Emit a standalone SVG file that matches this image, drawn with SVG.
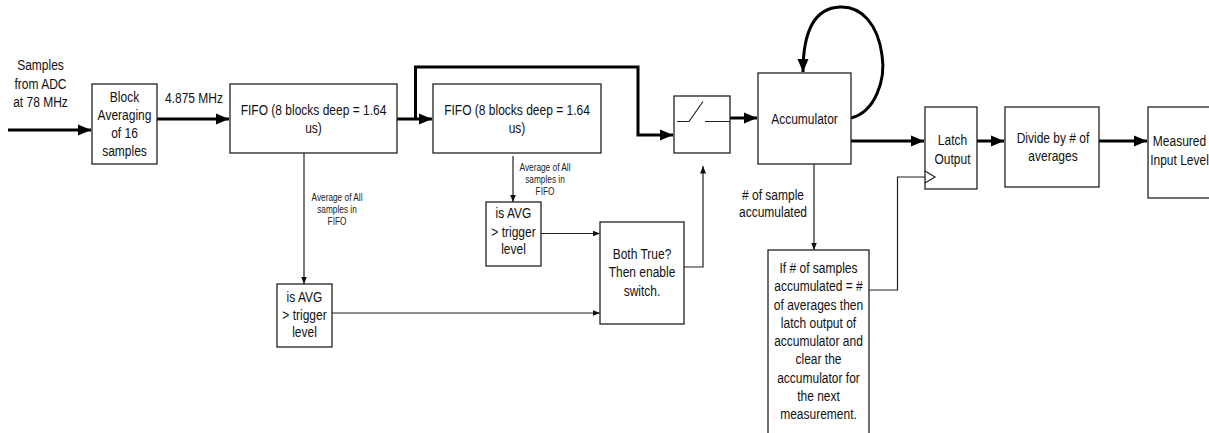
<svg xmlns="http://www.w3.org/2000/svg" width="1209" height="433" viewBox="0 0 1209 433">
<style>
.box{fill:#fff;stroke:#222;stroke-width:1.3}
.t{font-family:"Liberation Sans",Arial,sans-serif;font-size:15px;fill:#111;text-anchor:middle}
.s{font-family:"Liberation Sans",Arial,sans-serif;font-size:10px;fill:#222;text-anchor:middle}
.thick{fill:none;stroke:#000;stroke-width:3}
.thin{fill:none;stroke:#222;stroke-width:1.2}
</style>
<defs>
<marker id="ah" markerUnits="userSpaceOnUse" markerWidth="14" markerHeight="12" refX="13" refY="6" orient="auto"><path d="M0,0.5 L13,6 L0,11.5 z" fill="#000"/></marker>
<marker id="as" markerUnits="userSpaceOnUse" markerWidth="8" markerHeight="7" refX="7.5" refY="3.5" orient="auto"><path d="M0,0.5 L7.5,3.5 L0,6.5 z" fill="#111"/></marker>
</defs>
<rect width="1209" height="433" fill="#fff"/>

<g id="connectors">
<path class="thick" d="M8,130 H91" marker-end="url(#ah)"/>
<path class="thick" d="M157,119 H229" marker-end="url(#ah)"/>
<path class="thick" d="M397,119 H432" marker-end="url(#ah)"/>
<path class="thick" d="M415.5,119 V67 H638 V135 H673" marker-end="url(#ah)"/>
<path class="thick" d="M730,118 H757" marker-end="url(#ah)"/>
<path class="thick" d="M851,118 C875,112 886,80 882,55 C878,25 862,6 840,7 C815,8 803,30 803,72" stroke-width="2.4" marker-end="url(#ah)"/>
<path class="thick" d="M851,141 H924" marker-end="url(#ah)"/>
<path class="thick" d="M977,141 H1004" marker-end="url(#ah)"/>
<path class="thick" d="M1099,141 H1147" marker-end="url(#ah)"/>
<path class="thin" d="M304,153 V284" marker-end="url(#as)"/>
<path class="thin" d="M513,156 V202" marker-end="url(#as)"/>
<path class="thin" d="M332,313 H600" marker-end="url(#as)"/>
<path class="thin" d="M541,233.5 H600" marker-end="url(#as)"/>
<path class="thin" d="M684,267 H703 V166" marker-end="url(#as)"/>
<path class="thin" d="M814,164 V250" marker-end="url(#as)"/>
<path class="thin" d="M869,290 H897.5 V177 H925"/>
<text class="t" transform="matrix(0.8 0 0 1 40.5 0)"><tspan x="0" y="70.5">Samples</tspan><tspan x="0" y="89">from ADC</tspan><tspan x="0" y="107">at 78 MHz</tspan></text>
<text class="t" transform="matrix(0.8 0 0 1 194 0)"><tspan x="0" y="103">4.875 MHz</tspan></text>
<text class="s" transform="matrix(0.83 0 0 1 337 0)"><tspan x="0" y="201">Average of All</tspan><tspan x="0" y="213">samples in</tspan><tspan x="0" y="225">FIFO</tspan></text>
<text class="s" transform="matrix(0.83 0 0 1 545 0)"><tspan x="0" y="171.5">Average of All</tspan><tspan x="0" y="183.5">samples in</tspan><tspan x="0" y="195.5">FIFO</tspan></text>
<text class="t" transform="matrix(0.8 0 0 1 773 0)"><tspan x="0" y="200">&#35; of sample</tspan><tspan x="0" y="217.5">accumulated</tspan></text>
</g>

<g id="block-avg">
<rect class="box" x="92" y="84" width="65" height="80"/>
<text class="t" transform="matrix(0.8 0 0 1 124.5 0)"><tspan x="0" y="102">Block</tspan><tspan x="0" y="120">Averaging</tspan><tspan x="0" y="138">of 16</tspan><tspan x="0" y="156">samples</tspan></text>
</g>
<g id="fifo1">
<rect class="box" x="230" y="84" width="167" height="69"/>
<text class="t" transform="matrix(0.8 0 0 1 313.5 0)"><tspan x="0" y="115">FIFO (8 blocks deep = 1.64</tspan><tspan x="0" y="133">us)</tspan></text>
</g>
<g id="fifo2">
<rect class="box" x="433" y="84" width="168" height="69"/>
<text class="t" transform="matrix(0.8 0 0 1 517 0)"><tspan x="0" y="115">FIFO (8 blocks deep = 1.64</tspan><tspan x="0" y="133">us)</tspan></text>
</g>
<g id="switch">
<rect class="box" x="674" y="96" width="56" height="57"/>
<path d="M677,121.5 H689 L703,101.5 M705,121.5 H730" fill="none" stroke="#222" stroke-width="1.2"/>
</g>
<g id="accumulator">
<rect class="box" x="758" y="73" width="93" height="91"/>
<text class="t" transform="matrix(0.8 0 0 1 804.5 0)"><tspan x="0" y="124">Accumulator</tspan></text>
</g>
<g id="latch">
<rect class="box" x="925" y="107" width="52" height="82"/>
<path d="M925,171 L935,177 L925,183" fill="none" stroke="#222" stroke-width="1.2"/>
<text class="t" transform="matrix(0.8 0 0 1 952.5 0)"><tspan x="0" y="145.5">Latch</tspan><tspan x="0" y="164">Output</tspan></text>
</g>
<g id="divide">
<rect class="box" x="1005" y="107" width="94" height="80"/>
<text class="t" transform="matrix(0.8 0 0 1 1053 0)"><tspan x="0" y="143">Divide by # of</tspan><tspan x="0" y="161">averages</tspan></text>
</g>
<g id="measured">
<rect class="box" x="1148" y="107" width="75" height="91"/>
<text class="t" transform="matrix(0.8 0 0 1 1179.5 0)"><tspan x="0" y="146">Measured</tspan><tspan x="0" y="165">Input Level</tspan></text>
</g>
<g id="avg-check1">
<rect class="box" x="277" y="284" width="55" height="63"/>
<text class="t" transform="matrix(0.8 0 0 1 304.5 0)"><tspan x="0" y="302">is AVG</tspan><tspan x="0" y="320">&gt; trigger</tspan><tspan x="0" y="337">level</tspan></text>
</g>
<g id="avg-check2">
<rect class="box" x="486" y="202" width="55" height="64"/>
<text class="t" transform="matrix(0.8 0 0 1 513.5 0)"><tspan x="0" y="218">is AVG</tspan><tspan x="0" y="237">&gt; trigger</tspan><tspan x="0" y="254">level</tspan></text>
</g>
<g id="both-true">
<rect class="box" x="600" y="222" width="84" height="102"/>
<text class="t" transform="matrix(0.8 0 0 1 642 0)"><tspan x="0" y="259">Both True?</tspan><tspan x="0" y="277.5">Then enable</tspan><tspan x="0" y="296">switch.</tspan></text>
</g>
<g id="latch-condition">
<rect class="box" x="768" y="250" width="101" height="200"/>
<text class="t" transform="matrix(0.8 0 0 1 818.5 0)"><tspan x="0" y="273">If # of samples</tspan><tspan x="0" y="291.3">accumulated = #</tspan><tspan x="0" y="309.6">of averages then</tspan><tspan x="0" y="327.9">latch output of</tspan><tspan x="0" y="346.2">accumulator and</tspan><tspan x="0" y="364.5">clear the</tspan><tspan x="0" y="382.8">accumulator for</tspan><tspan x="0" y="401.1">the next</tspan><tspan x="0" y="419.4">measurement.</tspan></text>
</g>
</svg>
